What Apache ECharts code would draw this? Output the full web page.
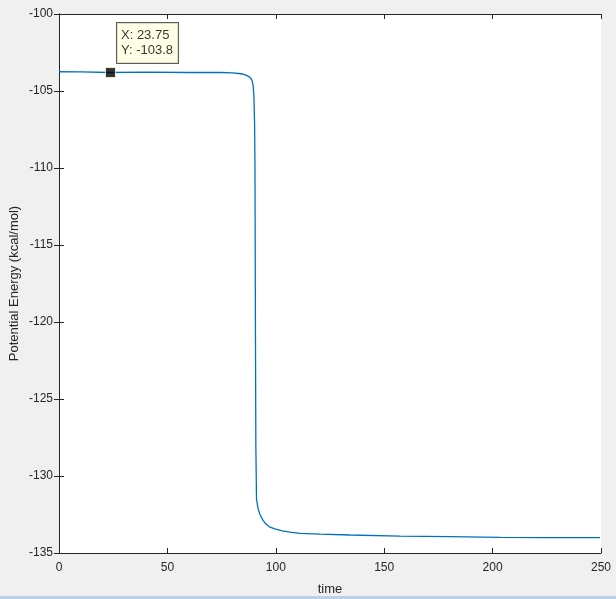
<!DOCTYPE html>
<html><head><meta charset="utf-8">
<script src="https://cdn.jsdelivr.net/npm/echarts@6/dist/echarts.min.js"></script>
<style>html,body{margin:0;padding:0;background:#f0f0f0;}#c{width:616px;height:599px;}</style>
</head><body><div id="c"></div>
<script>
// Data
var timeValues = [0, 10, 23.75, 40, 60, 75, 80, 84, 86, 88, 89, 89.5, 89.9, 90.2, 90.4, 90.6, 90.8, 91.1, 91.8, 92.7, 94, 95, 97, 99.6, 103, 106.5, 111.2, 120.4, 134.2, 157.3, 180, 203.4, 225, 249.5];
var energyValues = [-103.75, -103.76, -103.8, -103.78, -103.8, -103.8, -103.82, -103.88, -103.95, -104.1, -104.3, -104.6, -105.3, -107, -110, -120, -128, -131.5, -132.1, -132.5, -132.85, -133.05, -133.3, -133.44, -133.56, -133.64, -133.72, -133.77, -133.83, -133.9, -133.94, -133.98, -134.0, -134.0];
var markerPoint = [23.75, -103.8];
var xTicks = {min: 0, max: 250, interval: 50};
var yTicks = {min: -135, max: -100, interval: 5};

var lineData = timeValues.map(function (t, i) { return [t, energyValues[i]]; });
var txt = '#262626';
var font = 'Liberation Sans, Arial, Helvetica, sans-serif';
var chart = echarts.init(document.getElementById('c'));
function axisBase(extra) {
  var a = {
    type: 'value',
    axisLine: {show: true, lineStyle: {color: txt, width: 1}},
    axisTick: {show: true, inside: true, length: 5, lineStyle: {color: txt}},
    splitLine: {show: false},
    axisLabel: {color: txt, fontSize: 12, fontFamily: font}
  };
  for (var k in extra) a[k] = extra[k];
  return a;
}
chart.setOption({
  backgroundColor: '#f0f0f0',
  animation: false,
  grid: {left: 59, right: 15, top: 14, bottom: 46, show: true, backgroundColor: '#ffffff', borderWidth: 0,
    containLabel: false, outerBoundsMode: 'none'},
  xAxis: [
    axisBase({min: xTicks.min, max: xTicks.max, interval: xTicks.interval, position: 'bottom',
      name: 'time', nameLocation: 'middle', nameGap: 30, nameMoveOverlap: false,
      nameTextStyle: {color: txt, fontSize: 13, fontFamily: font},
      axisLabel: {color: txt, fontSize: 12, fontFamily: font, margin: 9}}),
    axisBase({min: xTicks.min, max: xTicks.max, interval: xTicks.interval, position: 'top', axisLabel: {show: false}})
  ],
  yAxis: [
    axisBase({min: yTicks.min, max: yTicks.max, interval: yTicks.interval, position: 'left',
      name: 'Potential Energy (kcal/mol)', nameLocation: 'middle', nameGap: 38, nameMoveOverlap: false,
      nameTextStyle: {color: txt, fontSize: 13, fontFamily: font},
      axisLabel: {color: txt, fontSize: 12, fontFamily: font, margin: 6}}),
    axisBase({min: yTicks.min, max: yTicks.max, interval: yTicks.interval, position: 'right', axisLabel: {show: false}})
  ],
  series: [
    {
      type: 'line', data: lineData, showSymbol: false, symbol: 'none',
      lineStyle: {color: '#0072BD', width: 1.3}, xAxisIndex: 0, yAxisIndex: 0, z: 2
    },
    {
      type: 'scatter', data: [markerPoint], symbol: 'rect', symbolSize: 10,
      itemStyle: {color: '#000000', borderColor: '#ffffe1', borderWidth: 1},
      xAxisIndex: 0, yAxisIndex: 0, z: 5,
      label: {
        show: true, position: [12, -44],
        formatter: function (p) { return 'X: ' + p.value[0] + '\nY: ' + p.value[1]; },
        backgroundColor: '#ffffe1', borderColor: '#333333', borderWidth: 1,
        padding: [5, 5, 5, 4], color: '#000000', fontSize: 13, fontFamily: font, lineHeight: 15
      }
    }
  ],
  graphic: [
    {type: 'rect', shape: {x: 0, y: 596, width: 616, height: 3}, style: {fill: '#b9d1ea'}}
  ]
});
</script></body></html>
